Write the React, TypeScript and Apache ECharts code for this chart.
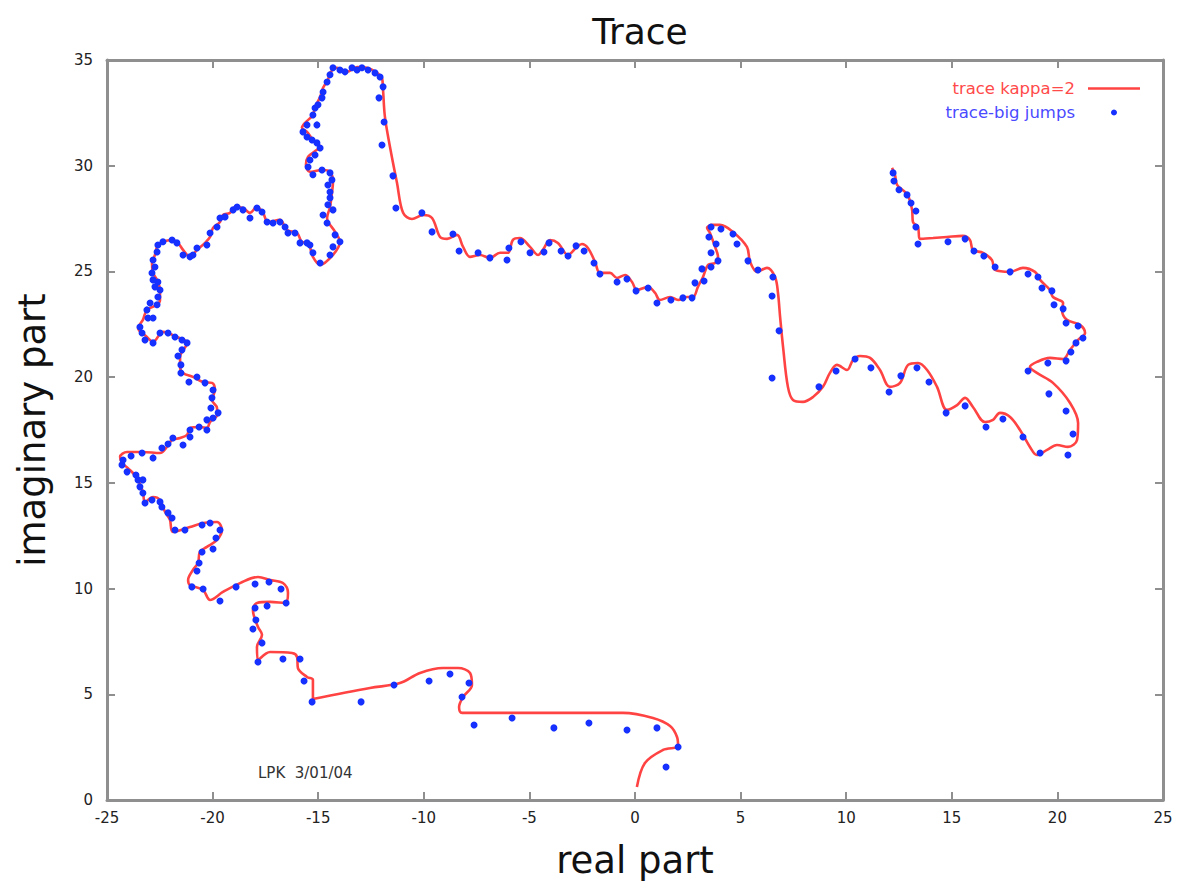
import React, { useEffect, useRef } from "react";
import * as echarts from "echarts";

const titleText = "Trace";
const xName = "real part";
const yName = "imaginary part";
const lineName = "trace kappa=2";
const dotName = "trace-big jumps";
const stamp = "LPK  3/01/04";

// red curve: "trace kappa=2" (real, imaginary)
const traceX = [0.09,0.47,1.33,2.04,1.99,1.66,0.85,-0.57,-8.19,-8.33,-8.14,-7.72,-7.81,-8.38,-9.09,-10.18,-11.13,-12.55,-15.25,-15.25,-15.53,-15.96,-16.0,-16.24,-17.28,-17.85,-17.9,-17.66,-17.85,-18.09,-17.9,-17.28,-16.57,-16.43,-16.67,-17.28,-17.85,-18.7,-19.51,-20.12,-20.45,-21.07,-21.16,-20.93,-20.69,-20.6,-20.27,-19.79,-19.56,-19.79,-20.45,-21.07,-21.88,-22.02,-22.25,-22.49,-22.82,-23.2,-23.3,-23.58,-24.01,-24.29,-24.38,-24.05,-23.3,-22.49,-22.16,-21.92,-21.54,-21.21,-21.07,-20.6,-20.27,-20.12,-19.79,-19.79,-20.03,-19.89,-20.03,-20.45,-20.93,-21.4,-21.54,-21.54,-21.21,-21.69,-22.35,-22.82,-23.11,-23.53,-23.3,-23.11,-22.63,-22.49,-22.49,-22.63,-22.82,-22.87,-22.73,-22.63,-22.35,-21.92,-21.64,-21.4,-21.07,-20.74,-20.36,-20.12,-19.98,-19.65,-19.51,-19.18,-18.94,-18.56,-18.23,-17.9,-17.61,-17.38,-16.81,-16.48,-16.0,-15.77,-15.48,-15.25,-14.91,-14.3,-13.97,-14.2,-14.58,-14.44,-14.35,-14.3,-14.44,-14.82,-15.39,-15.58,-15.48,-15.06,-14.91,-15.25,-15.53,-15.77,-15.63,-15.25,-15.15,-14.91,-14.77,-14.54,-14.44,-14.11,-13.64,-13.16,-12.69,-12.22,-11.98,-11.93,-11.84,-11.6,-11.27,-10.98,-10.56,-10.04,-9.61,-9.23,-8.9,-8.43,-8.14,-7.81,-7.34,-6.87,-6.39,-6.01,-5.78,-5.45,-4.97,-4.59,-4.36,-4.02,-3.65,-3.17,-2.75,-2.51,-2.23,-1.89,-1.66,-1.18,-0.85,-0.47,-0.14,0.09,0.62,0.95,1.18,1.66,2.04,2.46,2.75,2.98,3.22,3.46,3.79,3.93,3.79,3.55,3.41,3.65,4.02,4.64,5.3,5.45,5.78,6.25,6.63,6.77,6.87,7.01,7.24,7.48,7.95,8.43,8.9,9.23,9.56,10.04,10.32,10.65,11.13,11.6,12.07,12.55,12.93,13.4,13.83,14.3,14.77,15.25,15.63,16.0,16.57,16.95,17.28,17.76,18.23,18.7,19.03,19.51,19.98,20.5,20.93,20.98,20.6,19.79,19.03,18.7,19.03,19.65,20.27,20.6,20.98,21.31,21.07,20.45,20.22,20.27,19.79,19.65,19.18,18.94,18.37,17.76,17.05,16.9,16.48,16.0,15.86,15.53,14.77,14.11,13.49,13.4,13.16,13.12,12.97,12.78,12.41,12.31,12.17];
const traceY = [0.61,1.75,2.37,2.55,2.98,3.5,3.88,4.12,4.12,4.4,4.87,5.44,6.01,6.24,6.24,6.01,5.53,5.3,4.78,5.68,5.82,6.24,6.76,6.95,7.0,6.62,7.24,7.81,8.18,8.99,9.32,9.37,9.32,9.79,10.26,10.41,10.55,10.26,9.84,9.46,9.93,10.17,10.41,10.88,11.21,11.73,11.97,12.3,12.77,13.15,13.1,12.91,12.68,13.25,13.62,14.19,14.33,14.1,14.57,15.23,15.7,15.94,16.23,16.46,16.46,16.41,16.7,17.03,17.12,17.27,17.6,17.64,17.6,17.88,18.21,18.54,18.92,19.39,19.73,19.77,20.01,20.2,20.48,20.96,21.62,21.9,22.14,21.67,21.9,22.33,22.71,23.18,23.42,23.65,24.12,24.6,24.93,25.4,25.78,26.16,26.4,26.49,26.35,26.02,25.69,26.02,26.35,26.63,27.06,27.34,27.67,27.77,28.05,28.0,27.77,28.05,27.77,27.34,27.44,26.96,26.82,26.4,26.35,25.69,25.31,25.78,26.4,26.87,27.53,28.05,28.71,29.23,29.71,29.8,29.71,30.04,30.42,30.75,30.89,31.22,31.6,31.79,32.02,32.4,32.78,33.25,33.68,34.06,34.39,34.63,34.44,34.67,34.63,34.39,34.15,33.59,32.31,30.89,29.19,27.77,27.48,27.67,27.53,26.63,26.54,26.73,26.16,25.69,25.78,25.64,25.88,25.88,26.49,26.58,26.16,25.78,26.02,26.49,26.35,25.78,26.16,26.3,26.11,25.45,24.93,24.93,24.69,24.83,24.5,24.12,24.27,23.98,23.65,23.79,23.65,23.79,23.79,24.27,24.74,25.31,25.4,25.69,26.16,26.82,27.06,27.2,27.2,26.87,26.16,25.45,24.98,25.17,24.74,23.98,22.85,21.43,19.54,18.92,18.83,19.06,19.54,20.2,20.58,20.34,20.81,21.0,20.91,20.34,19.54,19.73,20.58,20.67,20.34,19.54,18.45,18.68,19.02,18.59,17.88,17.98,18.31,18.12,17.5,16.7,16.32,16.56,16.79,16.7,17.03,17.83,18.78,19.73,20.2,20.48,20.72,20.91,20.86,21.29,21.76,22.09,22.47,22.71,23.18,23.51,23.79,24.12,24.6,24.98,25.17,24.98,25.07,25.54,25.88,26.02,26.49,26.68,26.63,26.58,26.54,27.1,27.34,27.91,28.48,28.76,29.09,29.56,29.9];

// blue dots: "trace-big jumps" (real, imaginary)
const jumpsX = [1.47,2.04,1.04,-0.38,-2.18,-3.84,-5.82,-7.62,-8.19,-7.86,-8.76,-9.75,-11.41,-12.97,-15.29,-15.67,-15.86,-16.67,-17.85,-17.66,-18.09,-17.95,-17.99,-17.42,-16.52,-16.76,-17.33,-17.99,-18.89,-19.65,-20.45,-20.98,-20.74,-20.64,-20.5,-19.98,-19.84,-19.65,-20.12,-20.5,-21.31,-21.78,-21.92,-22.11,-22.4,-22.49,-22.87,-23.2,-23.3,-23.44,-23.3,-23.53,-23.63,-24.05,-24.29,-24.24,-23.86,-23.34,-22.82,-22.4,-22.11,-21.88,-21.4,-21.07,-21.07,-20.64,-20.27,-20.27,-19.98,-19.74,-20.08,-20.03,-19.98,-20.36,-20.74,-21.12,-21.5,-21.5,-21.64,-21.45,-21.21,-21.45,-21.78,-22.11,-22.49,-22.82,-23.2,-23.34,-23.44,-23.06,-22.82,-23.11,-22.96,-22.63,-22.59,-22.49,-22.73,-22.59,-22.82,-22.87,-22.73,-22.82,-22.63,-22.59,-22.35,-21.92,-21.69,-21.4,-21.07,-20.93,-20.74,-20.27,-20.12,-19.79,-19.65,-19.41,-19.03,-18.84,-18.56,-18.23,-17.9,-17.66,-17.42,-17.14,-16.81,-16.57,-16.43,-16.1,-15.86,-15.53,-15.39,-15.25,-14.91,-14.44,-14.3,-13.97,-14.2,-14.58,-14.77,-14.3,-14.54,-14.44,-14.44,-14.54,-14.35,-14.44,-14.82,-15.25,-15.48,-15.39,-15.15,-14.91,-15.06,-15.29,-15.53,-15.72,-15.53,-15.06,-15.25,-15.15,-15.01,-14.82,-14.77,-14.58,-14.44,-14.3,-13.97,-13.73,-13.4,-13.16,-12.93,-12.64,-12.31,-12.07,-11.93,-12.12,-11.88,-11.98,-11.46,-11.32,-10.09,-9.61,-8.62,-8.33,-7.43,-6.87,-6.06,-5.97,-5.4,-4.97,-4.31,-4.07,-3.5,-3.17,-2.79,-2.41,-1.94,-1.66,-0.85,-0.38,0.05,0.62,1.04,1.7,2.27,2.7,2.84,3.27,3.17,3.6,3.93,3.6,3.84,3.5,3.6,4.07,4.64,4.83,5.35,5.82,6.53,6.49,6.82,6.49,8.71,9.52,10.42,11.17,12.03,12.59,13.35,13.92,14.73,15.63,16.62,17.42,18.37,19.18,20.5,20.74,20.41,19.6,18.61,19.55,20.41,20.64,20.88,21.21,20.98,20.41,20.27,19.84,19.74,19.27,19.08,18.61,17.76,17.05,16.52,16.05,15.63,14.82,13.4,13.3,13.3,13.07,12.88,12.5,12.26,12.22];
const jumpsY = [1.56,2.51,3.41,3.31,3.64,3.41,3.88,3.55,4.87,5.53,5.96,5.63,5.44,4.64,4.64,5.63,6.67,6.67,6.53,7.43,8.09,8.51,9.08,9.18,9.32,9.98,10.31,10.22,10.08,9.41,9.98,10.08,10.83,11.21,11.73,11.87,12.39,12.77,13.1,13.01,12.77,12.77,13.34,13.58,13.86,14.1,14.19,14.05,14.52,14.81,15.14,15.14,15.37,15.52,15.85,16.08,16.27,16.41,16.18,16.65,16.84,17.12,16.79,17.17,17.5,17.64,17.5,17.98,18.07,18.31,18.54,19.02,19.39,19.73,20.01,19.77,20.2,20.58,21.0,21.29,21.62,21.76,21.9,22.09,22.09,21.62,21.76,22.09,22.37,22.8,22.8,23.18,23.51,23.42,23.79,24.12,24.27,24.5,24.6,24.93,25.21,25.54,25.92,26.25,26.4,26.49,26.35,25.78,25.69,25.78,26.11,26.25,26.82,27.1,27.53,27.58,27.91,28.05,27.91,27.53,28.0,27.81,27.34,27.29,27.34,27.1,26.82,26.82,26.35,26.35,26.25,25.88,25.4,25.78,26.16,26.4,26.73,27.29,27.67,27.91,28.15,28.48,28.76,29.09,29.33,29.66,29.8,29.57,29.94,30.27,30.51,30.84,31.08,31.22,31.36,31.6,31.93,31.93,32.4,32.73,32.88,33.21,33.49,33.96,34.3,34.63,34.53,34.44,34.63,34.53,34.63,34.53,34.39,34.2,33.73,33.21,32.07,30.98,29.52,28.0,27.77,26.87,26.77,25.97,25.88,25.64,25.54,26.11,26.4,25.88,25.92,26.35,25.97,25.73,26.21,25.97,25.4,24.88,24.5,24.64,24.08,24.22,23.51,23.65,23.75,23.75,24.46,24.55,25.12,25.21,25.5,25.88,26.3,26.63,27.1,27.01,26.77,26.3,25.5,25.07,24.74,23.84,22.19,19.96,19.54,20.29,20.86,20.44,19.3,20.06,20.44,19.77,18.31,18.64,17.64,18.02,17.17,16.41,16.32,17.31,18.4,19.21,20.29,20.67,20.77,21.19,21.62,21.85,22.42,22.56,23.23,23.42,24.08,24.22,24.74,24.88,24.98,25.21,25.73,25.97,26.54,26.4,26.3,27.1,27.86,28.24,28.62,28.86,29.28,29.66];

const FONT = "'Lucida Grande', 'DejaVu Sans', sans-serif";
const FRAME = "#8f8f8f";
const RED = "#ff4343";
const BLUE = "#1530ff";

export default function App() {
  const ref = useRef<HTMLDivElement>(null);
  useEffect(() => {
    document.body.style.margin = "0";
    const chart = echarts.init(ref.current!, null, { renderer: "svg" });
    const traceData = traceX.map((x, i) => [x, traceY[i]]);
    const jumpData = jumpsX.map((x, i) => [x, jumpsY[i]]);
    const axisCommon = {
      type: "value" as const,
      interval: 5,
      axisLine: { show: true, onZero: false, lineStyle: { color: FRAME, width: 3 } },
      axisTick: { show: true, inside: true, length: 8, lineStyle: { color: FRAME, width: 2 } },
      splitLine: { show: false },
    };
    chart.setOption({
      animation: false,
      backgroundColor: "#ffffff",
      title: {
        text: titleText,
        left: 635,
        textAlign: "center",
        top: 8,
        textStyle: { fontFamily: FONT, fontSize: 36, fontWeight: "normal", color: "#111" },
      },
      legend: {
        orient: "vertical",
        right: 41,
        top: 75,
        align: "right",
        itemWidth: 52,
        itemHeight: 6,
        itemGap: 7,
        symbolKeepAspect: true,
        data: [
          { name: lineName, icon: "path://M0,0L52,0L52,2.6L0,2.6Z", itemStyle: { color: RED }, textStyle: { color: "#ff4a4a" } },
          { name: dotName, icon: "circle", itemStyle: { color: BLUE, opacity: 1 }, textStyle: { color: "#4a4aff" } },
        ],
        textStyle: { fontFamily: FONT, fontSize: 16.5, padding: [0, 8, 0, 0] },
      },
      grid: { left: 107, right: 23, top: 60, bottom: 90 },
      xAxis: [
        {
          ...axisCommon,
          min: -25,
          max: 25,
          position: "bottom",
          name: xName,
          nameLocation: "middle",
          nameGap: 42,
          nameTextStyle: { fontFamily: FONT, fontSize: 37, color: "#111" },
          axisLabel: { fontFamily: FONT, fontSize: 15, color: "#222", margin: 10 },
        },
        {
          ...axisCommon,
          min: -25,
          max: 25,
          position: "top",
          axisLabel: { show: false },
        },
      ],
      yAxis: [
        {
          ...axisCommon,
          min: 0,
          max: 35,
          position: "left",
          name: yName,
          nameLocation: "middle",
          nameGap: 56,
          nameTextStyle: { fontFamily: FONT, fontSize: 37, color: "#111" },
          axisLabel: { fontFamily: FONT, fontSize: 15, color: "#222", margin: 14 },
        },
        {
          ...axisCommon,
          min: 0,
          max: 35,
          position: "right",
          axisLabel: { show: false },
        },
      ],
      graphic: [
        {
          type: "text",
          left: 258,
          top: 765,
          style: { text: stamp, fontFamily: FONT, fontSize: 15, fill: "#333" },
        },
      ],
      series: [
        {
          name: lineName,
          type: "line",
          data: traceData,
          smooth: 0.35,
          symbol: "none",
          lineStyle: { color: RED, width: 2.6 },
          itemStyle: { color: RED },
          z: 2,
        },
        {
          name: dotName,
          type: "scatter",
          data: jumpData,
          symbolSize: 7,
          itemStyle: { color: BLUE, opacity: 1 },
          z: 3,
        },
      ],
    });
    return () => chart.dispose();
  }, []);
  return <div ref={ref} style={{ width: 1186, height: 890 }} />;
}
